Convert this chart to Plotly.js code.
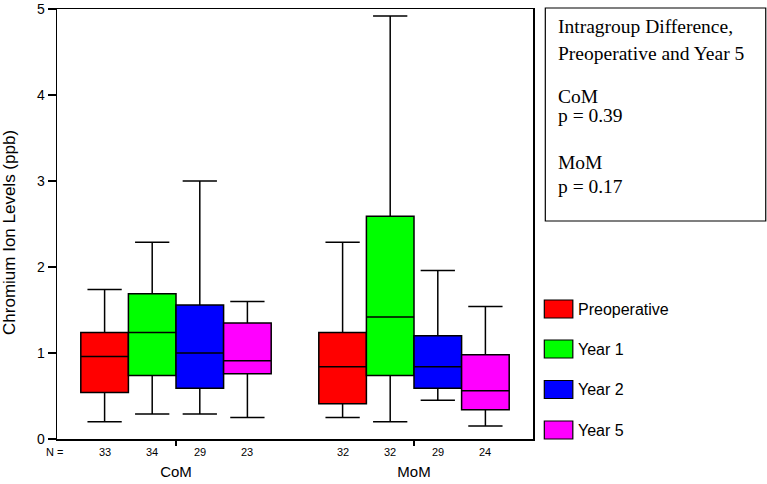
<!DOCTYPE html>
<html>
<head>
<meta charset="utf-8">
<script src="https://cdn.plot.ly/plotly-3.0.1.min.js"></script>
<style>html,body{margin:0;padding:0;background:#fff;}#chart{width:767px;height:484px;}</style>
</head>
<body>
<div id="chart"></div>
<script>
// ---- Data ----
const groups = ['CoM', 'MoM'];
const seriesNames = ['Preoperative', 'Year 1', 'Year 2', 'Year 5'];
const seriesColors = ['#FF0000', '#00FF00', '#0000FF', '#FF00FF'];

const preopLower  = [0.20, 0.25];
const preopQ1     = [0.54, 0.41];
const preopMedian = [0.96, 0.84];
const preopQ3     = [1.24, 1.24];
const preopUpper  = [1.74, 2.29];

const y1Lower  = [0.29, 0.20];
const y1Q1     = [0.74, 0.74];
const y1Median = [1.24, 1.42];
const y1Q3     = [1.69, 2.59];
const y1Upper  = [2.29, 4.92];

const y2Lower  = [0.29, 0.45];
const y2Q1     = [0.59, 0.59];
const y2Median = [1.00, 0.84];
const y2Q3     = [1.56, 1.20];
const y2Upper  = [3.00, 1.96];

const y5Lower  = [0.25, 0.15];
const y5Q1     = [0.76, 0.34];
const y5Median = [0.91, 0.56];
const y5Q3     = [1.35, 0.98];
const y5Upper  = [1.60, 1.54];

const nPreop = [33, 32];
const nY1    = [34, 32];
const nY2    = [29, 29];
const nY5    = [23, 24];

const yTickVals = [0, 1, 2, 3, 4, 5];
const yTitle = 'Chromium Ion Levels (ppb)';
const noteLines = ['Intragroup Difference,', 'Preoperative and Year 5', 'CoM', 'p = 0.39', 'MoM', 'p = 0.17'];

// ---- Build ----
const lowers = [preopLower, y1Lower, y2Lower, y5Lower];
const q1s = [preopQ1, y1Q1, y2Q1, y5Q1];
const medians = [preopMedian, y1Median, y2Median, y5Median];
const q3s = [preopQ3, y1Q3, y2Q3, y5Q3];
const uppers = [preopUpper, y1Upper, y2Upper, y5Upper];
const ns = [nPreop, nY1, nY2, nY5];

const W = 767, H = 484;
const mL = 57, mT = 9, mR = 767 - 532.7, mB = 45;
const pw = W - mL - mR, ph = H - mT - mB;
const px = v => (v - mL) / pw;
const py = v => (H - mB - v) / ph;

const sans = 'Liberation Sans, Arial, sans-serif';
const serif = 'Liberation Serif, Times New Roman, serif';

const traces = seriesNames.map((name, i) => ({
  type: 'box',
  name: name,
  x: groups,
  q1: q1s[i],
  median: medians[i],
  q3: q3s[i],
  lowerfence: lowers[i],
  upperfence: uppers[i],
  boxpoints: false,
  fillcolor: seriesColors[i],
  line: {color: '#000', width: 1.5},
  whiskerwidth: 0.72,
  showlegend: false,
  hoverinfo: 'skip'
}));

const annotations = [];
const shapes = [];
const offsets = [-0.3, -0.1, 0.1, 0.3];

// Y axis title
annotations.push({xref: 'paper', yref: 'paper', x: px(10), y: py(232), text: yTitle, textangle: -90,
  showarrow: false, xanchor: 'center', yanchor: 'middle', font: {family: sans, size: 17, color: '#000'}});

// N labels
annotations.push({xref: 'paper', yref: 'paper', x: px(55), y: py(452), text: 'N =',
  showarrow: false, xanchor: 'center', yanchor: 'middle', font: {family: sans, size: 11, color: '#000'}});
ns.forEach((arr, i) => {
  arr.forEach((n, g) => {
    annotations.push({xref: 'x', yref: 'paper', x: g + offsets[i], y: py(452), text: String(n),
      showarrow: false, xanchor: 'center', yanchor: 'middle', font: {family: sans, size: 11, color: '#000'}});
  });
});

// Legend (manual swatches)
const legCenters = [309, 349, 389.5, 430];
seriesNames.forEach((name, i) => {
  shapes.push({type: 'rect', xref: 'paper', yref: 'paper',
    x0: px(544), x1: px(572.5), y0: py(legCenters[i] - 9), y1: py(legCenters[i] + 9),
    fillcolor: seriesColors[i], line: {color: '#000', width: 1.2}});
  annotations.push({xref: 'paper', yref: 'paper', x: px(576), y: py(legCenters[i]), text: name,
    showarrow: false, xanchor: 'left', yanchor: 'middle', font: {family: sans, size: 16, color: '#000'}});
});

// Note box
shapes.push({type: 'rect', xref: 'paper', yref: 'paper',
  x0: px(545), x1: px(765.3), y0: py(221), y1: py(8),
  fillcolor: 'rgba(0,0,0,0)', line: {color: '#000', width: 1.2}});
const noteCenters = [27, 53, 96, 116, 162, 186];
noteLines.forEach((t, i) => {
  annotations.push({xref: 'paper', yref: 'paper', x: px(556), y: py(noteCenters[i]), text: t,
    showarrow: false, xanchor: 'left', yanchor: 'middle', font: {family: serif, size: 19.5, color: '#000'}});
});

const layout = {
  width: W, height: H,
  margin: {l: mL, r: mR, t: mT, b: mB, pad: 0},
  paper_bgcolor: '#fff', plot_bgcolor: '#fff',
  boxmode: 'group', boxgap: 0.2, boxgroupgap: 0,
  showlegend: false,
  font: {family: sans, color: '#000'},
  xaxis: {
    type: 'category', range: [-0.5, 1.5],
    showline: true, linecolor: '#000', linewidth: 1.5, mirror: true,
    ticks: 'outside', ticklen: 5, tickwidth: 1.5, tickcolor: '#000',
    showgrid: false, zeroline: false,
    tickfont: {family: sans, size: 15, color: '#000'},
    ticklabelstandoff: 13
  },
  yaxis: {
    range: [0, 5.002], tickvals: yTickVals,
    showline: true, linecolor: '#000', linewidth: 1.5, mirror: true,
    ticks: 'outside', ticklen: 8, tickwidth: 1.5, tickcolor: '#000',
    showgrid: false, zeroline: false,
    ticklabeloverflow: 'allow',
    tickfont: {family: sans, size: 14, color: '#000'}
  },
  annotations: annotations,
  shapes: shapes
};

Plotly.newPlot('chart', traces, layout, {displayModeBar: false, staticPlot: true});
</script>
</body>
</html>
